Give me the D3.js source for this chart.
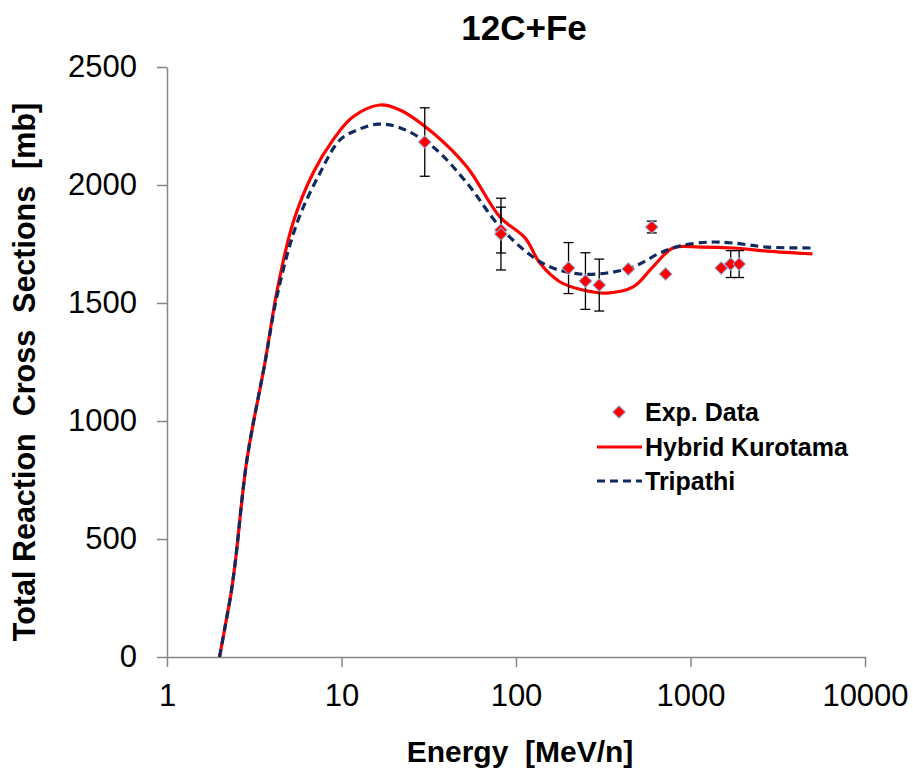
<!DOCTYPE html>
<html>
<head>
    <meta charset="utf-8" />
    <title>12C+Fe</title>
    <script src="https://d3js.org/d3.v7.min.js"></script>
    <style>
        body {
            margin: 0;
            background: #fff;
            font-family: "Liberation Sans", Arial, Helvetica, sans-serif;
        }

        .axis path,
        .axis line {
            stroke: #868686;
            stroke-width: 1.5;
        }

        .axis text {
            font-family: "Liberation Sans", Arial, sans-serif;
            font-size: 31px;
            fill: #000;
        }
    </style>
</head>
<body>
    <svg id="chart" width="913" height="770"></svg>
    <script>
        // experimental points (E in MeV/n, sigma in mb, error in mb)
        const expEnergy = [30, 82, 82, 200, 250, 300, 440, 600, 720, 1500, 1700, 1900]
        const expSigma = [2182, 1809, 1792, 1648, 1593, 1576, 1644, 1822, 1623, 1648, 1665, 1665]
        const expError = [145, 97, 152, 108, 120, 110, 0, 25, 0, 0, 57, 57]

        // Hybrid Kurotama curve
        const kuroEnergy = [2.0, 2.15, 2.33, 2.47, 2.87, 3.64, 4.27, 5.27, 6.87, 8.94, 11.6, 16.6, 21.6, 33.5, 52.4, 81, 113, 137, 179, 242, 332, 469, 609, 794, 1133, 1757, 2744, 5000]
        const kuroSigma = [0, 127, 271, 411, 835, 1246, 1551, 1839, 2051, 2191, 2288, 2339, 2318, 2220, 2076, 1864, 1775, 1669, 1589, 1555, 1542, 1568, 1653, 1733, 1737, 1733, 1720, 1708]

        // Tripathi curve
        const tripEnergy = [2.0, 2.15, 2.33, 2.47, 2.87, 3.64, 4.3, 5.56, 7.53, 9.8, 12.3, 16.2, 21.6, 33.5, 52.4, 81, 125, 163, 231, 332, 469, 670, 874, 1290, 1757, 2744, 5000]
        const tripSigma = [0, 127, 271, 411, 835, 1246, 1540, 1839, 2051, 2191, 2233, 2258, 2243, 2161, 2008, 1822, 1695, 1648, 1623, 1627, 1653, 1712, 1742, 1758, 1754, 1737, 1733]

        const xTicks = [1, 10, 100, 1000, 10000]
        const yTicks = [0, 500, 1000, 1500, 2000, 2500]

        const svg = d3.select("svg#chart")
        const margin = { left: 167, right: 48, top: 67, bottom: 113 }
        const width = +svg.attr("width")
        const height = +svg.attr("height")

        const x = d3.scaleLog().domain([1, 10000]).range([margin.left, width - margin.right])
        const y = d3.scaleLinear().domain([0, 2500]).range([height - margin.bottom, margin.top])

        svg.append("g").attr("class", "axis")
            .attr("transform", `translate(0, ${y(0)})`)
            .call(d3.axisBottom(x).tickValues(xTicks).tickFormat(d3.format("d"))
                .tickSize(10).tickSizeOuter(0).tickPadding(17))

        svg.append("g").attr("class", "axis")
            .attr("transform", `translate(${x(1)}, 0)`)
            .call(d3.axisLeft(y).tickValues(yTicks).tickFormat(d3.format("d"))
                .tickSize(10).tickSizeOuter(0).tickPadding(20))

        const line = d3.line()
            .x(d => x(d[0])).y(d => y(d[1]))
            .curve(d3.curveCatmullRom.alpha(0.5))

        const trip = tripEnergy.map((e, i) => [e, tripSigma[i]])
        const kuro = kuroEnergy.map((e, i) => [e, kuroSigma[i]])

        svg.append("path").datum(kuro)
            .attr("d", line)
            .attr("fill", "none")
            .attr("stroke", "#ff0000")
            .attr("stroke-width", 3.2)

        svg.append("path").datum(trip)
            .attr("d", line)
            .attr("fill", "none")
            .attr("stroke", "#0f2a5f")
            .attr("stroke-width", 3.2)
            .attr("stroke-dasharray", "8,5")

        const exp = expEnergy.map((e, i) => ({ e: e, s: expSigma[i], err: expError[i] }))

        const bars = svg.append("g").selectAll("g.errbar").data(exp.filter(d => d.err > 0))
            .join("g").attr("class", "errbar")
            .attr("stroke", "#000").attr("stroke-width", 1.3)

        bars.append("line")
            .attr("x1", d => x(d.e)).attr("x2", d => x(d.e))
            .attr("y1", d => y(d.s - d.err)).attr("y2", d => y(d.s + d.err))
        bars.append("line")
            .attr("x1", d => x(d.e) - 5).attr("x2", d => x(d.e) + 5)
            .attr("y1", d => y(d.s - d.err)).attr("y2", d => y(d.s - d.err))
        bars.append("line")
            .attr("x1", d => x(d.e) - 5).attr("x2", d => x(d.e) + 5)
            .attr("y1", d => y(d.s + d.err)).attr("y2", d => y(d.s + d.err))

        const diamond = d3.symbol(d3.symbolSquare, 80)

        svg.append("g").selectAll("path.exp").data(exp)
            .join("path").attr("class", "exp")
            .attr("d", diamond)
            .attr("transform", d => `translate(${x(d.e)}, ${y(d.s)}) rotate(45)`)
            .attr("fill", "#ff0000")
            .attr("stroke", "#8fa9d8")
            .attr("stroke-width", 1)

        // title
        svg.append("text")
            .attr("x", 524).attr("y", 40)
            .attr("text-anchor", "middle")
            .attr("font-size", 35).attr("font-weight", "bold")
            .text("12C+Fe")

        // axis titles
        svg.append("text")
            .attr("x", 520).attr("y", 762)
            .attr("text-anchor", "middle")
            .attr("font-size", 30).attr("font-weight", "bold")
            .attr("xml:space", "preserve")
            .text("Energy  [MeV/n]")

        svg.append("text")
            .attr("transform", "translate(35, 372) rotate(-90)")
            .attr("text-anchor", "middle")
            .attr("font-size", 30.5).attr("font-weight", "bold")
            .attr("xml:space", "preserve")
            .text("Total Reaction  Cross  Sections  [mb]")

        // legend
        const legend = svg.append("g").attr("font-size", 25).attr("font-weight", "bold")
        legend.append("path")
            .attr("d", diamond)
            .attr("transform", "translate(619, 412) rotate(45)")
            .attr("fill", "#ff0000").attr("stroke", "#8fa9d8")
        legend.append("text").attr("x", 645).attr("y", 421).text("Exp. Data")

        legend.append("line")
            .attr("x1", 597).attr("x2", 642).attr("y1", 447).attr("y2", 447)
            .attr("stroke", "#ff0000").attr("stroke-width", 3.2)
        legend.append("text").attr("x", 645).attr("y", 456).text("Hybrid Kurotama")

        legend.append("line")
            .attr("x1", 597).attr("x2", 642).attr("y1", 481).attr("y2", 481)
            .attr("stroke", "#0f2a5f").attr("stroke-width", 3.2)
            .attr("stroke-dasharray", "8,5")
        legend.append("text").attr("x", 645).attr("y", 490).text("Tripathi")
    </script>
</body>
</html>
